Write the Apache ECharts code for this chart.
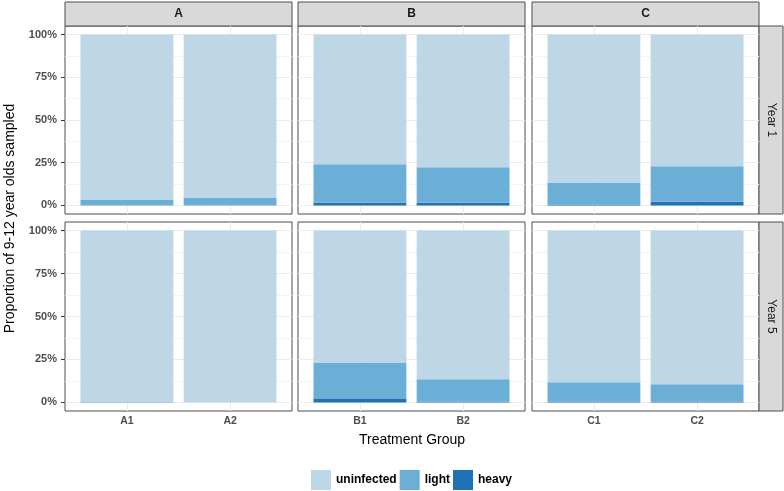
<!DOCTYPE html>
<html><head><meta charset="utf-8">
<script src="https://cdn.jsdelivr.net/npm/echarts@6/dist/echarts.min.js"></script>
<style>html,body{margin:0;padding:0;background:#fff}#c{width:784px;height:491px}</style>
</head><body><div id="c"></div>
<script>
// ---- data ----
const groups = ['A', 'B', 'C'];
const years = ['Year 1', 'Year 5'];
const categories = [['A1', 'A2'], ['B1', 'B2'], ['C1', 'C2']];
const seriesNames = ['uninfected', 'light', 'heavy'];
// percent of sampled children, [group][bar]
const heavyYear1 = [[0, 0], [1.6, 1.6], [0.6, 2.2]];
const lightYear1 = [[3.5, 4.3], [22.5, 20.8], [12.9, 20.7]];
const uninfectedYear1 = [[96.5, 95.7], [75.9, 77.6], [86.5, 77.1]];
const heavyYear5 = [[0, 0], [2.0, 0.4], [0.4, 0.4]];
const lightYear5 = [[0.6, 0], [21.3, 13.1], [11.3, 10.1]];
const uninfectedYear5 = [[99.4, 100], [76.7, 86.5], [88.3, 89.5]];
const yTicks = [0, 25, 50, 75, 100];
const yMinorTicks = [12.5, 37.5, 62.5, 87.5];

const heavy = [heavyYear1, heavyYear5];
const light = [lightYear1, lightYear5];
const uninfected = [uninfectedYear1, uninfectedYear5];

// ---- style / layout ----
const FONT = 'Liberation Sans, Arial, Helvetica, sans-serif';
const colors = { uninfected: '#BDD7E7', light: '#6BAED6', heavy: '#2171B5' };
const panelLeft = [65, 298, 532];
const panelW = 227;
const rowTop = [26, 222];
const rowH = [188, 189];
const stripTop = 2, stripH = 24;
const rightStripX = 759, rightStripW = 24;
const borderColor = '#4d4d4d';

const option = {
  animation: false,
  grid: [], xAxis: [], yAxis: [], series: [],
  legend: {
    data: seriesNames, left: 311, top: 470, padding: 0,
    itemWidth: 20, itemHeight: 20, itemGap: 3, icon: 'rect', selectedMode: false,
    textStyle: { fontFamily: FONT, fontWeight: 'bold', fontSize: 12, color: '#000' }
  },
  graphic: []
};

for (let r = 0; r < 2; r++) {
  for (let c = 0; c < 3; c++) {
    const k = r * 3 + c;
    const fi = 2 * k, di = 2 * k + 1;
    const L = panelLeft[c], T = rowTop[r], H = rowH[r], W = panelW;
    const unit = W / 2.2;
    const innerL = L + 0.1 * unit, innerW = 2 * unit;
    const innerT = T + H * 5 / 110, innerH = H * 100 / 110;

    option.grid.push({ left: L, top: T, width: W, height: H, show: true, backgroundColor: '#fff',
      borderColor: borderColor, borderWidth: 1, containLabel: false, outerBoundsMode: 'none' });
    option.grid.push({ left: innerL, top: innerT, width: innerW, height: innerH, show: false,
      containLabel: false, outerBoundsMode: 'none' });

    option.xAxis.push({ type: 'value', gridIndex: fi, min: 0.4, max: 2.6, show: false });
    option.yAxis.push({ type: 'value', gridIndex: fi, min: -5, max: 105, show: false });

    option.xAxis.push({
      type: 'category', gridIndex: di, data: categories[c], boundaryGap: true,
      offset: (T + H) - (innerT + innerH),
      axisLine: { show: false },
      axisTick: { show: r === 1, alignWithLabel: true, length: 4, lineStyle: { color: '#333' } },
      axisLabel: { show: r === 1, margin: 5, fontFamily: FONT, fontWeight: 'bold', fontSize: 10.5, color: '#4d4d4d' },
      splitLine: { show: false }
    });
    option.yAxis.push({
      type: 'value', gridIndex: di, min: 0, max: 100, interval: 25,
      offset: innerL - L,
      axisLine: { show: false },
      axisTick: { show: c === 0, length: 4, lineStyle: { color: '#333' } },
      axisLabel: { show: c === 0, formatter: '{value}%', margin: 8, fontFamily: FONT, fontWeight: 'bold', fontSize: 11, color: '#4d4d4d' },
      splitLine: { show: false }
    });

    const gridLines = [];
    yTicks.forEach(v => gridLines.push({ yAxis: v, lineStyle: { color: '#EBEBEB', width: 1 } }));
    yMinorTicks.forEach(v => gridLines.push({ yAxis: v, lineStyle: { color: '#F4F4F4', width: 1 } }));
    categories[c].forEach((_, i) => gridLines.push({ xAxis: i + 1, lineStyle: { color: '#EBEBEB', width: 1 } }));

    option.series.push({
      type: 'line', name: '_grid' + k, xAxisIndex: fi, yAxisIndex: fi, data: [], silent: true,
      markLine: { z: 1, silent: true, symbol: 'none', label: { show: false }, animation: false,
        lineStyle: { type: 'solid' }, emphasis: { disabled: true }, data: gridLines }
    });

    const segs = [['heavy', heavy[r][c]], ['light', light[r][c]], ['uninfected', uninfected[r][c]]];
    segs.forEach(([name, vals]) => {
      option.series.push({
        type: 'bar', name: name, stack: 'st' + k, xAxisIndex: di, yAxisIndex: di,
        data: vals, barWidth: '90%', z: 2,
        itemStyle: { color: colors[name] }, emphasis: { disabled: true }, silent: true
      });
    });
  }
}

// facet strips
groups.forEach((g, c) => {
  option.graphic.push({ type: 'rect', silent: true, shape: { x: panelLeft[c], y: stripTop, width: panelW, height: stripH },
    style: { fill: '#D9D9D9', stroke: borderColor, lineWidth: 1 } });
  option.graphic.push({ type: 'text', silent: true, x: panelLeft[c] + panelW / 2, y: stripTop + stripH / 2,
    style: { text: g, fill: '#1a1a1a', font: 'bold 12px ' + FONT, align: 'center', verticalAlign: 'middle',
      textAlign: 'center', textVerticalAlign: 'middle' } });
});
years.forEach((yname, r) => {
  option.graphic.push({ type: 'rect', silent: true, shape: { x: rightStripX, y: rowTop[r], width: rightStripW, height: rowH[r] },
    style: { fill: '#D9D9D9', stroke: borderColor, lineWidth: 1 } });
  option.graphic.push({ type: 'text', silent: true, x: rightStripX + rightStripW / 2, y: rowTop[r] + rowH[r] / 2, rotation: -Math.PI / 2,
    style: { text: yname, fill: '#1a1a1a', font: '12px ' + FONT, align: 'center', verticalAlign: 'middle',
      textAlign: 'center', textVerticalAlign: 'middle' } });
});
// axis titles
option.graphic.push({ type: 'text', silent: true, x: (panelLeft[0] + rightStripX) / 2, y: 440,
  style: { text: 'Treatment Group', fill: '#000', font: '14px ' + FONT, align: 'center', verticalAlign: 'middle',
    textAlign: 'center', textVerticalAlign: 'middle' } });
option.graphic.push({ type: 'text', silent: true, x: 10, y: (rowTop[0] + rowTop[1] + rowH[1]) / 2, rotation: Math.PI / 2,
  style: { text: 'Proportion of 9-12 year olds sampled', fill: '#000', font: '14px ' + FONT, align: 'center', verticalAlign: 'middle',
    textAlign: 'center', textVerticalAlign: 'middle' } });

const chart = echarts.init(document.getElementById('c'), null, { renderer: 'canvas' });
chart.setOption(option);
</script>
</body></html>
